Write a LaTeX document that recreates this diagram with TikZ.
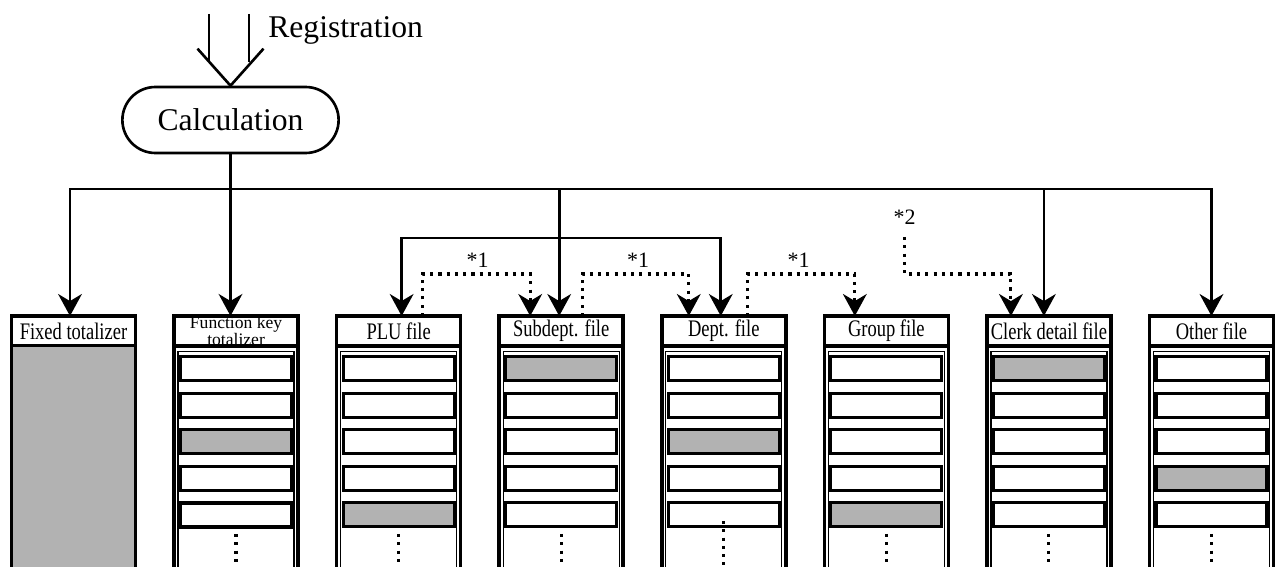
\documentclass[tikz,border=0pt]{standalone}
\usepackage{fontspec}
\setmainfont{Liberation Serif}
\usetikzlibrary{arrows.meta}
\usetikzlibrary{calc}
\usetikzlibrary{positioning}
\usetikzlibrary{shapes.misc}

\newcommand{\narrowtext}[1]{\scalebox{0.78}[1]{#1}}

\begin{document}
\begin{tikzpicture}[x=0.02cm,y=-0.02cm,
  filehead/.style={draw,line width=2pt,minimum width=2.48cm,minimum height=0.6cm,inner sep=0pt,outer sep=0pt,font=\fontsize{13.5}{15}\selectfont},
  boxline/.style={line width=2pt},
  frameline/.style={line width=0.7pt},
  record/.style={draw,line width=1.8pt,fill=white},
  recordon/.style={record,fill=gray!60},
  feed/.style={line width=1.5pt,-{Stealth[length=12.5pt,width=13.5pt,inset=4pt]}},
  feedboth/.style={line width=1.5pt,{Stealth[length=12.5pt,width=13.5pt,inset=4pt]}-{Stealth[length=12.5pt,width=13.5pt,inset=4pt]}},
  link/.style={line width=1.8pt,dash pattern=on 1.8pt off 2.9pt,-{Stealth[length=12.5pt,width=13.5pt,inset=4pt]}},
  rowdots/.style={line width=1.8pt,dash pattern=on 1.8pt off 2.9pt},
  starnote/.style={font=\fontsize{12.5}{14}\selectfont,inner sep=0pt,anchor=base},
  node distance=0.772cm]
\useasboundingbox (0,0) rectangle (1279,567);

\node[rounded rectangle,draw,line width=1.5pt,minimum width=4.56cm,minimum height=1.32cm,font=\fontsize{18}{20}\selectfont] (calculation) at (230.5,120) {Calculation};
\node[anchor=base west,inner sep=0pt,font=\fontsize{18}{20}\selectfont] (registration) at (268,38) {Registration};
\coordinate (regleft) at (209,14);
\coordinate (regright) at (249,14);
\draw[line width=1.5pt] (regleft) -- ++(0,48.5) (regright) -- ++(0,48.5);
\draw[line width=1.5pt] ($(calculation.north)+(-33,-37)$) -- (calculation.north) -- ($(calculation.north)+(33,-37)$);

\node[filehead,anchor=north] (fixed) at (73.5,316) {\narrowtext{Fixed totalizer}};
\node[filehead,right=of fixed,align=center,font=\fontsize{10}{8.5}\selectfont] (fkey) {Function key\\totalizer};
\node[filehead,right=of fkey] (plu) {\narrowtext{PLU file}};
\node[filehead,right=of plu] (subdept) {\narrowtext{Subdept. file}};
\node[filehead,right=of subdept] (dept) {\narrowtext{Dept. file}};
\node[filehead,right=of dept] (group) {\narrowtext{Group file}};
\node[filehead,right=of group] (clerk) {\narrowtext{Clerk detail file}};
\node[filehead,right=of clerk] (other) {\narrowtext{Other file}};

\fill[gray!60] ($(fixed.south west)+(0,1.5)$) rectangle ($(fixed.south east)+(0,230)$);
\draw[boxline] (fixed.south west) -- ++(0,230) (fixed.south east) -- ++(0,230);

\foreach \col/\on/\dotstart/\dotlen in {fkey/3/188/32,plu/5/188/32,subdept/1/188/32,dept/3/175/44,group/5/188/32,clerk/1/188/32,other/4/188/32}{
  \draw[boxline] (\col.south west) -- ++(0,230) (\col.south east) -- ++(0,230);
  \draw[frameline] ($(\col.south west)+(4,230)$) -- ($(\col.south west)+(4,5.5)$) -- ($(\col.south east)+(-4,5.5)$) -- ($(\col.south east)+(-4,230)$);
  \foreach \r in {1,...,5}
    \draw[record] ($(\col.south west)+(6.5,10.5+36.6*\r-36.6)$) rectangle ++(111,24);
  \draw[recordon] ($(\col.south west)+(6.5,10.5+36.6*\on-36.6)$) rectangle ++(111,24);
  \draw[rowdots] ($(\col.south)+(0,\dotstart)$) -- ++(0,\dotlen);
}

\coordinate (bus) at (230,189);
\coordinate (subdeptin) at ($(subdept.north)+(-2,0)$);
\coordinate (clerkin) at ($(clerk.north)+(-5,0)$);
\coordinate (pluin) at ($(plu.north)+(3,0)$);
\coordinate (deptin) at ($(dept.north)+(-3,0)$);
\draw[feed] (calculation.south) -- (calculation.south |- fkey.north);
\draw[feed] (bus) -| ($(fixed.north)+(-3.5,0)$);
\draw[feed] (bus) -| (other.north);
\draw[feed] (bus -| subdeptin) -- (subdeptin);
\draw[feed] (bus -| clerkin) -- (clerkin);
\draw[feedboth] (pluin) |- ($(deptin)+(0,-78)$) -- (deptin);

\node[starnote] (noteA) at (477.5,268) {*1};
\node[starnote] (noteB) at (638,268) {*1};
\node[starnote] (noteC) at (798.5,268) {*1};
\node[starnote] (noteD) at (904.5,225) {*2};
\draw[link] ($(plu.north)+(24,0)$) |- ($(subdept.north)+(-31,-42)$) -- ($(subdept.north)+(-31,0)$);
\draw[link] ($(subdept.north)+(21,0)$) |- ($(dept.north)+(-35,-42)$) -- ($(dept.north)+(-35,0)$);
\draw[link] ($(dept.north)+(24,0)$) |- ($(group.north)+(-31.5,-42)$) -- ($(group.north)+(-31.5,0)$);
\draw[link] ($(noteD.base)+(0,12)$) |- ($(clerk.north)+(-38,-42)$) -- ($(clerk.north)+(-38,0)$);

\end{tikzpicture}
\end{document}
